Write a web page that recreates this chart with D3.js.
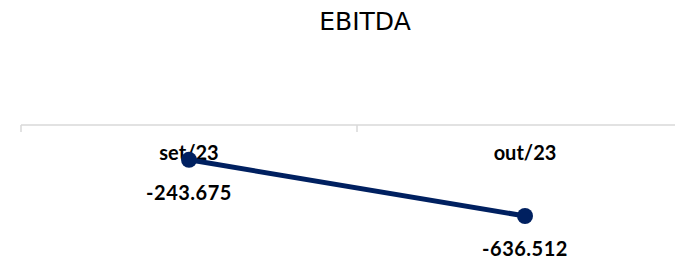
<!DOCTYPE html>
<html><head><meta charset="utf-8">
<script src="https://cdn.jsdelivr.net/npm/d3@7"></script>
<style>body{margin:0;background:#fff}svg{display:block}</style>
</head><body>
<script>
const categories = ["set/23", "out/23"];
const values = [-243.675, -636.512];
const valueLabels = ["-243.675", "-636.512"];
const title = "EBITDA";

const W = 675, H = 259;
const svg = d3.select("body").append("svg").attr("width", W).attr("height", H);

const x = d3.scaleBand().domain(categories).range([21, 693]);
const y = d3.scaleLinear().domain([0, -636.512]).range([125, 216]);

svg.append("text").attr("x", 365).attr("y", 30).attr("text-anchor", "middle")
  .attr("font-family", "DejaVu Sans, sans-serif").attr("font-size", 25)
  .attr("fill", "#000").text(title);

// axis at zero
svg.append("line").attr("x1", 21).attr("x2", W).attr("y1", y(0)).attr("y2", y(0))
  .attr("stroke", "#d9d9d9").attr("stroke-width", 1.5);
const edges = [x.range()[0]].concat(categories.map(c => x(c) + x.bandwidth()));
svg.selectAll(".tk").data(edges).enter().append("line")
  .attr("x1", d => d).attr("x2", d => d).attr("y1", y(0)).attr("y2", y(0) + 7)
  .attr("stroke", "#d9d9d9").attr("stroke-width", 1.5);

svg.selectAll(".cat").data(categories).enter().append("text")
  .attr("x", d => x(d) + x.bandwidth() / 2).attr("y", 160).attr("text-anchor", "middle")
  .attr("font-family", "Lato, sans-serif").attr("font-weight", "bold").attr("font-size", 20)
  .attr("fill", "#000").text(d => d);

const line = d3.line().x((d, i) => x(categories[i]) + x.bandwidth() / 2).y(d => y(d));
svg.append("path").datum(values).attr("d", line).attr("fill", "none")
  .attr("stroke", "#002060").attr("stroke-width", 5);

svg.selectAll(".pt").data(values).enter().append("circle")
  .attr("cx", (d, i) => x(categories[i]) + x.bandwidth() / 2).attr("cy", d => y(d)).attr("r", 8)
  .attr("fill", "#002060");

svg.selectAll(".vl").data(values).enter().append("text")
  .attr("x", (d, i) => x(categories[i]) + x.bandwidth() / 2).attr("y", d => y(d) + 40)
  .attr("text-anchor", "middle").attr("letter-spacing", 0.5)
  .attr("font-family", "Lato, sans-serif").attr("font-weight", "bold").attr("font-size", 20)
  .attr("fill", "#000").text((d, i) => valueLabels[i]);
</script>
</body></html>
